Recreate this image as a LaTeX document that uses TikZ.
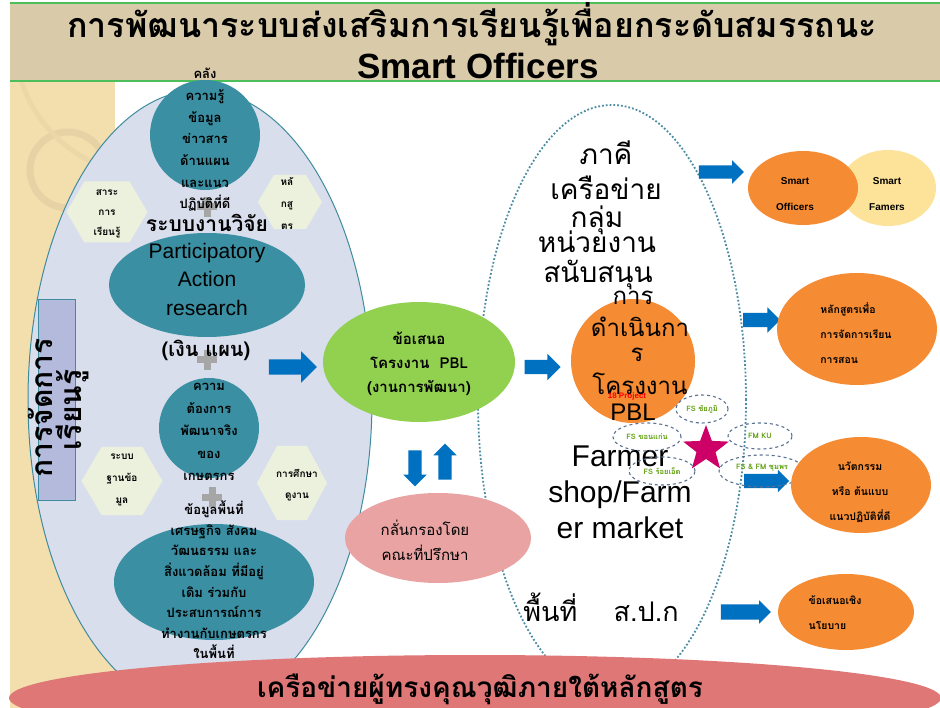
\documentclass[tikz,border=0pt]{standalone}
\usepackage{fontspec}
\setmainfont{Liberation Sans}
\newfontfamily\thai[Script=Thai]{Loma}
\usetikzlibrary{shapes.geometric,shapes.arrows}
\definecolor{bandbeige}{HTML}{D9CBA9}
\definecolor{bandline}{HTML}{4DBF5A}
\definecolor{leftbeige}{HTML}{F3DFAE}
\definecolor{ringbeige}{HTML}{E6D2A4}
\definecolor{lavender}{HTML}{D9DEED}
\definecolor{tealfill}{HTML}{3A8FA3}
\definecolor{tealline}{HTML}{3F8C9E}
\definecolor{hexfill}{HTML}{EBF1DD}
\definecolor{plusgray}{HTML}{A6A6A6}
\definecolor{boxfill}{HTML}{B3BADB}
\definecolor{greenfill}{HTML}{92D050}
\definecolor{pinkfill}{HTML}{E9A3A3}
\definecolor{orangefill}{HTML}{F58B33}
\definecolor{paleyellow}{HTML}{FDE29A}
\definecolor{arrowblue}{HTML}{0070C0}
\definecolor{starpink}{HTML}{CC0066}
\definecolor{dashblue}{HTML}{5B7393}
\definecolor{bottomred}{HTML}{E07777}
\definecolor{fsgreen}{HTML}{5E9E0A}
\definecolor{dotteal}{HTML}{4C8CA3}
\newcommand\fs[2]{\fontsize{#1}{#2}\selectfont}
\newcommand\shaft[1]{\rule{0pt}{#1pt}}
\begin{document}
\begin{tikzpicture}[x=1pt,y=-1pt,
  shp/.style={ellipse, inner sep=0pt, outer sep=0pt, draw=none},
  circ/.style={circle, inner sep=0pt, outer sep=0pt, draw=none},
  tx/.style={align=center, inner sep=0pt},
  hexa/.style={fill=hexfill},
  plusbar/.style={fill=plusgray},
  barrow/.style={single arrow, fill=arrowblue, draw=none, inner sep=0pt, single arrow tip angle=90},
  smallell/.style={ellipse, draw=dashblue, dashed, line width=1.1pt, inner sep=0pt},
  fstext/.style={font=\fs{7.5}{9}\thai\bfseries, text=fsgreen, inner sep=0pt},
  outtext/.style={font=\fs{10.5}{25}\thai\bfseries, inner sep=0pt},
]
\useasboundingbox (0,0) rectangle (940,708);
\clip (0,0) rectangle (940,708);
\fill[white] (0,0) rectangle (940,708);
% left textured strip
\fill[leftbeige] (10,80) rectangle (115,708);
\begin{scope}
\clip (10,80) rectangle (115,708);
\draw[ringbeige, line width=7pt] (68,170) circle (38);
\draw[ringbeige!60!leftbeige, line width=5pt] (150,40) circle (135);
\end{scope}
% title band
\fill[bandbeige] (10,3) rectangle (940,82);
\draw[bandline, line width=1.5pt] (10,3) -- (940,3);
\draw[bandline, line width=2pt] (10,81) -- (940,81);

% big zones
\node[shp, fill=lavender, draw=tealline, line width=1pt, minimum width=344pt, minimum height=620pt] (learnzone) at (200,400) {};
\node[shp, draw=dotteal, dotted, line width=1.8pt, minimum width=268pt, minimum height=590pt] (partnerzone) at (612,400) {};

% vertical label box
\node[draw=tealline, fill=boxfill, line width=1pt, minimum width=37pt, minimum height=200pt, inner sep=0pt] (mgmtbox) at (56.5,400) {};
\node[tx, rotate=90, font=\fs{30}{34}\thai\bfseries] (mgmt1) at (40,408) {การจัดการ};
\node[tx, rotate=90, font=\fs{30}{34}\thai\bfseries] (mgmt2) at (72,410) {เรียนรู้};

% hexagons
\path[hexa] (66.5,212) -- (84.5,181.5) -- (129.5,181.5) -- (147.5,212) -- (129.5,242.5) -- (84.5,242.5) -- cycle;
\path[hexa] (258,202) -- (274,175) -- (306,175) -- (322,202) -- (306,229) -- (274,229) -- cycle;
\path[hexa] (81.5,481) -- (101.5,447) -- (142.5,447) -- (162.5,481) -- (142.5,515) -- (101.5,515) -- cycle;
\path[hexa] (257,483) -- (277,446) -- (307,446) -- (327,483) -- (307,520) -- (277,520) -- cycle;
\node[tx, font=\fs{10}{20}\thai\bfseries] (hex1) at (107,214) {สาระ\\การ\\เรียนรู้};
\node[tx, font=\fs{10}{22}\thai\bfseries] (hex2) at (287,203) {หลั\\กสู\\ตร};
\node[tx, font=\fs{10}{22}\thai\bfseries] (hex3) at (122,480) {ระบบ\\ฐานข้อ\\มูล};
\node[tx, font=\fs{10}{21}\thai\bfseries] (hex4) at (297,485) {การศึกษา\\ดูงาน};

% teal shapes
\node[circ, fill=tealfill, minimum size=110pt] (kmcircle) at (205,135) {};
\node[shp, fill=tealfill, minimum width=196pt, minimum height=104pt] (parell) at (207,285) {};
\node[circ, fill=tealfill, minimum size=100pt] (needcircle) at (209,428) {};
\node[shp, fill=tealfill, minimum width=200pt, minimum height=116pt] (areaell) at (214,582) {};

% plus signs
\fill[plusbar] (197,203.5) rectangle (217,210.5); \fill[plusbar] (203.5,197) rectangle (210.5,217);
\fill[plusbar] (197,356.5) rectangle (217,363.5); \fill[plusbar] (203.5,350) rectangle (210.5,370);
\fill[plusbar] (202,493.5) rectangle (222,500.5); \fill[plusbar] (208.5,487) rectangle (215.5,507);

% texts in the learning zone
\node[tx, font=\fs{13}{21.7}\thai\bfseries] (kmtext) at (205,140) {คลัง\\ความรู้\\ข้อมูล\\ข่าวสาร\\ด้านแผน\\และแนว\\ปฏิบัติที่ดี};
\node[tx, font=\fs{21}{24}\thai\bfseries] (restext) at (207,223) {ระบบงานวิจัย};
\node[tx, font=\fs{21}{28.5}] (partext) at (207,279) {Participatory\\Action\\research};
\node[tx, font=\fs{20}{24}\thai\bfseries] (fundtext) at (206,350) {(เงิน แผน)};
\node[tx, font=\fs{13}{22.5}\thai\bfseries] (needtext) at (209,432) {ความ\\ต้องการ\\พัฒนาจริง\\ของ\\เกษตรกร};
\node[tx, font=\fs{13}{20.6}\thai\bfseries] (areatext) at (214,580) {ข้อมูลพื้นที่\\เศรษฐกิจ สังคม\\วัฒนธรรม และ\\สิ่งแวดล้อม ที่มีอยู่\\เดิม ร่วมกับ\\ประสบการณ์การ\\ทำงานกับเกษตรกร\\ในพื้นที่};

% middle
\node[shp, fill=greenfill, minimum width=192pt, minimum height=120pt] (proposal) at (419,362) {};
\node[tx, font=\fs{15}{24}\thai\bfseries] (proptext) at (419,364) {ข้อเสนอ\\โครงงาน~~PBL\\(งานการพัฒนา)};
\node[shp, fill=pinkfill, minimum width=186pt, minimum height=90pt] (review) at (438,538) {};
\node[tx, font=\fs{15}{25}\thai] (revtext) at (425,540) {กลั่นกรองโดย\\คณะที่ปรึกษา};

% block arrows
\node[barrow, minimum height=48pt, single arrow head extend=8pt] (arr1) at (289,367) {\shaft{15}};
\node[barrow, minimum height=36pt, single arrow head extend=6pt] (arr2) at (539,367) {\shaft{14}};
\node[barrow, rotate=270, minimum height=36pt, single arrow head extend=5pt] (arrdown) at (415,465) {\shaft{13}};
\node[barrow, rotate=90, minimum height=36pt, single arrow head extend=5pt] (arrup) at (445,465) {\shaft{13}};
\node[barrow, minimum height=45pt, single arrow head extend=5pt] (arr3) at (718,172) {\shaft{13}};
\node[barrow, minimum height=37pt, single arrow head extend=5.5pt] (arr4) at (758,320) {\shaft{14}};
\node[barrow, minimum height=45pt, single arrow head extend=4pt] (arr5) at (763,481) {\shaft{14}};
\node[barrow, minimum height=50pt, single arrow head extend=4pt] (arr6) at (742,612) {\shaft{15}};

% partner zone
\node[circ, fill=orangefill, minimum size=124pt] (pblcircle) at (633,361) {};
\node[tx, font=\fs{28}{30}\thai] (p1) at (606,153) {ภาคี};
\node[tx, font=\fs{28}{30}\thai] (p2) at (606,188) {เครือข่าย};
\node[tx, font=\fs{28}{30}\thai] (p3) at (597,220) {กลุ่ม};
\node[tx, font=\fs{28}{30}\thai] (p4) at (597,242) {หน่วยงาน};
\node[tx, font=\fs{28}{30}\thai] (p5) at (598,275) {สนับสนุน};
\node[tx, font=\fs{24}{27}\thai] (q1) at (633,298) {การ};
\node[tx, font=\fs{24}{27}\thai] (q2) at (640,327) {ดำเนินกา};
\node[tx, font=\fs{24}{27}\thai] (q3) at (637,355) {ร};
\node[tx, font=\fs{24}{27}\thai] (q4) at (640,384) {โครงงาน};
\node[tx, font=\fs{24}{27}] (q5) at (633,412) {PBL};
\node[tx, font=\fs{8}{9}\bfseries, text=red] (proj) at (627,396) {18 Project};
\node[tx, font=\fs{30}{36}] (farm) at (620,492) {Farmer\\shop/Farm\\er market};
\node[tx, font=\fs{27}{30}\thai] (alro) at (601,607) {พื้นที่~~~~ส.ป.ก};

% star and sites
\node[star, star points=5, star point ratio=2.4, fill=starpink, minimum size=48pt, inner sep=0pt] (hub) at (706,449) {};
\node[smallell, minimum width=52pt, minimum height=28pt] (site1) at (702,409) {};
\node[smallell, minimum width=68pt, minimum height=28pt] (site2) at (647,437) {};
\node[smallell, minimum width=64pt, minimum height=26pt] (site3) at (760,436) {};
\node[smallell, minimum width=66pt, minimum height=28pt] (site4) at (662,471) {};
\node[smallell, minimum width=86pt, minimum height=32pt] (site5) at (762,471) {};
\node[fstext] (site1t) at (702,409) {FS ชัยภูมิ};
\node[fstext] (site2t) at (647,437) {FS ขอนแก่น};
\node[fstext] (site3t) at (760,436) {FM KU};
\node[fstext] (site4t) at (662,471) {FS ร้อยเอ็ด};
\node[fstext] (site5t) at (762,468) {FS \& FM ชุมพร};

% outputs
\node[shp, fill=paleyellow, minimum width=96pt, minimum height=76pt] (farmers) at (888,188) {};
\node[shp, fill=orangefill, minimum width=110pt, minimum height=74pt] (officers) at (803,188) {};
\node[tx, font=\fs{10}{26}\bfseries] (offtext) at (795,194) {Smart\\Officers};
\node[tx, font=\fs{10}{26}\bfseries] (famtext) at (887,194) {Smart\\Famers};
\node[shp, fill=orangefill, minimum width=160pt, minimum height=112pt] (course) at (857,329) {};
\node[outtext, align=left] (coursetext) at (856,333) {หลักสูตรเพื่อ\\การจัดการเรียน\\การสอน};
\node[shp, fill=orangefill, minimum width=140pt, minimum height=96pt] (innov) at (861,485) {};
\node[outtext, align=center] (innovtext) at (860,492) {นวัตกรรม\\หรือ ต้นแบบ\\แนวปฏิบัติที่ดี};
\node[shp, fill=orangefill, minimum width=136pt, minimum height=76pt] (policy) at (846,612) {};
\node[outtext, align=left] (policytext) at (835,613) {ข้อเสนอเชิง\\นโยบาย};

% bottom network
\node[shp, fill=bottomred, minimum width=932pt, minimum height=86pt] (network) at (475,698) {};
\node[tx, font=\fs{28}{32}\thai\bfseries] (nettext) at (480,689) {เครือข่ายผู้ทรงคุณวุฒิภายใต้หลักสูตร};

% title
\node[tx, font=\fs{34}{40}\thai\bfseries] (title) at (472,24) {การพัฒนาระบบส่งเสริมการเรียนรู้เพื่อยกระดับสมรรถนะ};
\node[tx, font=\fs{35}{40}\bfseries] (title2) at (478,66) {Smart Officers};
\end{tikzpicture}
\end{document}
